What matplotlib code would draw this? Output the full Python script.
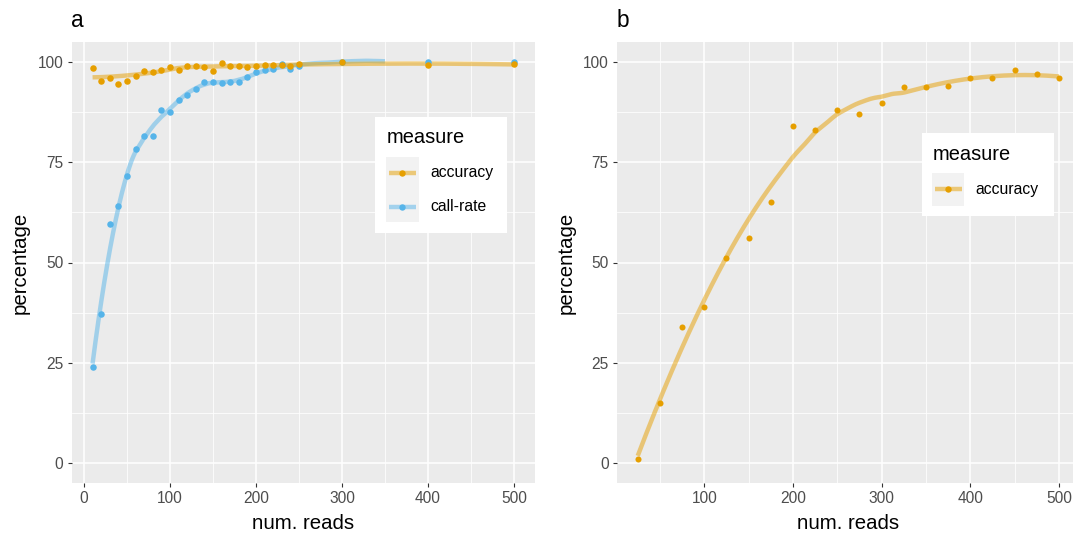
import numpy as np
import matplotlib
matplotlib.use("Agg")
import matplotlib.pyplot as plt
from matplotlib.patches import Rectangle
from matplotlib.lines import Line2D

# ---------------- data ----------------
reads_a = [10, 20, 30, 40, 50, 60, 70, 80, 90, 100, 110, 120, 130, 140, 150,
           160, 170, 180, 190, 200, 210, 220, 230, 240, 250, 300, 400, 500]
accuracy_a = [98.6, 95.3, 96.1, 94.5, 95.3, 96.6, 97.7, 97.4, 98.0, 98.8, 98.1,
              99.1, 98.9, 98.7, 97.8, 99.75, 99.1, 99.1, 98.7, 98.9, 99.25,
              99.3, 99.2, 98.9, 99.5, 100.0, 99.3, 99.5]
callrate_a = [23.9, 37.2, 59.6, 64.0, 71.6, 78.3, 81.5, 81.6, 88.0, 87.5, 90.5,
              91.9, 93.4, 95.1, 94.9, 94.7, 95.1, 95.1, 96.3, 97.4, 98.0, 98.25,
              99.5, 98.25, 99.1, 100.0, 100.0, 100.0]
callrate_smooth_end = 350

reads_b = [25, 50, 75, 100, 125, 150, 175, 200, 225, 250, 275, 300, 325, 350,
           375, 400, 425, 450, 475, 500]
accuracy_b = [1.0, 15.0, 33.9, 38.9, 51.0, 56.1, 65.1, 84.0, 83.0, 88.0, 87.1,
              89.9, 93.9, 93.9, 94.1, 95.9, 95.9, 97.9, 96.9, 95.9]

measures = ["accuracy", "call-rate"]
x_ticks_a = [0, 100, 200, 300, 400, 500]
x_ticks_b = [100, 200, 300, 400, 500]
y_ticks = [0, 25, 50, 75, 100]

ORANGE = "#E69F00"
BLUE = "#56B4E9"
W, H = 1073, 536


def loess(x, y, xg, span=0.75):
    x = np.asarray(x, float)
    y = np.asarray(y, float)
    n = len(x)
    q = max(int(np.floor(n * span)), 3)
    out = []
    for x0 in xg:
        d = np.abs(x - x0)
        h = np.sort(d)[q - 1]
        u = np.clip(d / h, 0, 1)
        w = (1 - u ** 3) ** 3
        c = np.polyfit(x - x0, y, 2, w=np.sqrt(w))
        out.append(c[-1])
    return np.array(out)


plt.rcParams['font.family'] = ['Liberation Sans', 'DejaVu Sans']
fig = plt.figure(figsize=(W / 100, H / 100), dpi=100)


def fx(px):
    return px / W


def fy(py):
    return 1 - py / H


def style_axes(ax, xlim, xmajor, xminor):
    ax.set_facecolor("#EBEBEB")
    ax.set_xlim(*xlim)
    ax.set_ylim(-5, 105)
    ax.set_xticks(xmajor)
    ax.set_xticks(xminor, minor=True)
    ax.set_yticks(y_ticks)
    ax.set_yticks([12.5, 37.5, 62.5, 87.5], minor=True)
    ax.grid(which="major", color="white", linewidth=1.1)
    ax.grid(which="minor", color="white", linewidth=0.55)
    ax.set_axisbelow(True)
    for s in ax.spines.values():
        s.set_visible(False)
    ax.tick_params(which="major", length=2.9, width=0.8, color="#333333",
                   labelcolor="#4D4D4D", labelsize=11.2, pad=3)
    ax.tick_params(which="minor", length=0)


# ---------------- panel a ----------------
axa = fig.add_axes([fx(71.5), fy(483), fx(535) - fx(71.5), fy(42) - fy(483)])
style_axes(axa, (-14.5, 524.5), x_ticks_a, [50, 150, 250, 350, 450])

xa = np.array(reads_a, float)
g_cr = np.linspace(xa.min(), callrate_smooth_end, 200)
g_ac = np.linspace(xa.min(), xa.max(), 200)
axa.plot(g_cr, loess(xa, callrate_a, g_cr, span=0.45), color=BLUE, lw=3.2,
         alpha=0.5, solid_capstyle="butt", zorder=2)
axa.plot(g_ac, loess(xa, accuracy_a, g_ac, span=0.75), color=ORANGE, lw=3.2,
         alpha=0.5, solid_capstyle="butt", zorder=2)
axa.scatter(xa, callrate_a, s=22, color=BLUE, linewidths=0, zorder=3)
axa.scatter(xa, accuracy_a, s=22, color=ORANGE, linewidths=0, zorder=4)

# ---------------- panel b ----------------
axb = fig.add_axes([fx(616.7), fy(483), fx(1080) - fx(616.7), fy(42) - fy(483)])
style_axes(axb, (1.25, 523.75), x_ticks_b, [50, 150, 250, 350, 450])
xb = np.array(reads_b, float)
g_b = np.linspace(xb.min(), xb.max(), 200)
axb.plot(g_b, loess(xb, accuracy_b, g_b, span=0.75), color=ORANGE, lw=3.2,
         alpha=0.5, solid_capstyle="butt", zorder=2)
axb.scatter(xb, accuracy_b, s=19, color=ORANGE, linewidths=0, zorder=4)

# ---------------- labels ----------------
fig.text(fx(71), fy(26.7), "a", fontsize=16.4, ha="left", va="baseline")
fig.text(fx(617), fy(26.7), "b", fontsize=16.4, ha="left", va="baseline")
fig.text(fx(303), fy(529), "num. reads", fontsize=14.7, ha="center", va="baseline")
fig.text(fx(848), fy(529), "num. reads", fontsize=14.7, ha="center", va="baseline")
fig.text(fx(20), fy(262.5), "percentage", fontsize=14.7, ha="center",
         va="center", rotation=90)
fig.text(fx(566), fy(262.5), "percentage", fontsize=14.7, ha="center",
         va="center", rotation=90)


# ---------------- legends ----------------
def draw_legend(box, title_xy, key_box, entries, line_x, label_x):
    x0, y0, x1, y1 = box
    fig.add_artist(Rectangle((fx(x0), fy(y1)), fx(x1) - fx(x0), fy(y0) - fy(y1),
                             transform=fig.transFigure, facecolor="white",
                             edgecolor="none", zorder=5))
    fig.text(fx(title_xy[0]), fy(title_xy[1]), "measure", fontsize=14.4,
             ha="left", va="baseline", zorder=6)
    kx0, ky0, kx1, ky1 = key_box
    fig.add_artist(Rectangle((fx(kx0), fy(ky1)), fx(kx1) - fx(kx0), fy(ky0) - fy(ky1),
                             transform=fig.transFigure, facecolor="#F2F2F2",
                             edgecolor="none", zorder=6))
    for label, color, cy in entries:
        fig.add_artist(Line2D([fx(line_x[0]), fx(line_x[1])], [fy(cy), fy(cy)],
                              transform=fig.transFigure, color=color, lw=3.2,
                              alpha=0.5, solid_capstyle="butt", zorder=7))
        mid = (line_x[0] + line_x[1]) / 2
        fig.add_artist(Line2D([fx(mid)], [fy(cy)], transform=fig.transFigure,
                              marker="o", markersize=4.6, color=color,
                              markeredgewidth=0, zorder=8))
        fig.text(fx(label_x), fy(cy), label, fontsize=11.3, ha="left",
                 va="center", zorder=8)


draw_legend((375, 117, 507, 233), (386.7, 143.3), (386, 156.7, 419, 221.7),
            [(measures[0], ORANGE, 172.7), (measures[1], BLUE, 206.7)],
            (389, 415.7), 430)
draw_legend((921.7, 133.3, 1054, 215.7), (932.7, 160), (932, 173.3, 964.3, 205.7),
            [(measures[0], ORANGE, 189.3)], (935, 961.7), 975.7)

fig.savefig("out.png", dpi=100)
